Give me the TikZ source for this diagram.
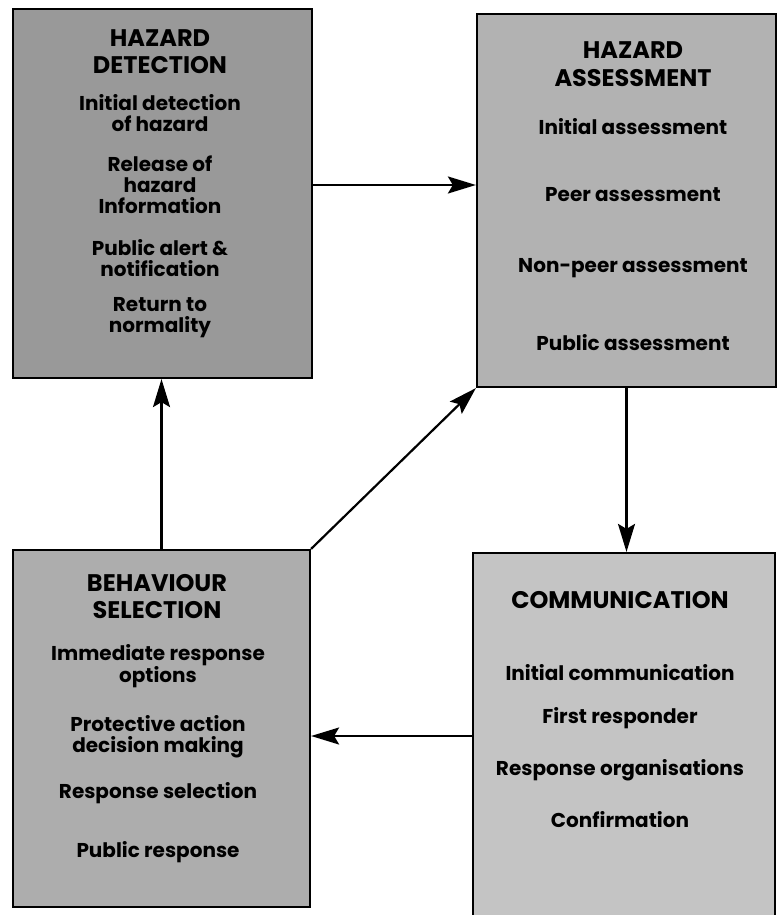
\documentclass[tikz,border=0pt]{standalone}
\usepackage{fontspec}
\setmainfont{Poppins}
\usetikzlibrary{arrows.meta,calc}
\definecolor{hdfill}{gray}{0.60}
\definecolor{hafill}{gray}{0.70}
\definecolor{bsfill}{gray}{0.68}
\definecolor{cmfill}{gray}{0.77}
\tikzset{
  box/.style={draw=black, line width=2.2pt, rectangle, inner sep=0pt},
  ttl/.style={font=\fontsize{24}{26}\selectfont\bfseries, inner sep=0pt, text=black},
  itm/.style={font=\fontsize{20}{21}\selectfont\bfseries, inner sep=0pt, align=center, text=black},
  arr/.style={line width=2.2pt, -{Stealth[length=28pt,width=17pt,inset=5pt]}},
}
\begin{document}
\begin{tikzpicture}[x=1pt,y=-1pt]
\useasboundingbox (0,0) rectangle (779,915);
\fill[white] (0,0) rectangle (779,915);
% boxes
\node[box, fill=hdfill, minimum width=299pt, minimum height=369pt] (hd) at (162.5,193.5) {};
\node[box, fill=hafill, minimum width=299pt, minimum height=373pt] (ha) at (626.5,200.5) {};
\node[box, fill=bsfill, minimum width=297pt, minimum height=357pt] (bs) at (161.5,728.5) {};
\node[box, fill=cmfill, minimum width=302pt, minimum height=367pt] (cm) at (624,736.5) {};
% hazard detection
\node[ttl] (hdt1) at (160,38) {HAZARD};
\node[ttl] (hdt2) at (160,65) {DETECTION};
\node[itm] (hdi1) at (160,113) {Initial detection\\of hazard};
\node[itm] (hdi2) at (160,185) {Release of\\hazard\\Information};
\node[itm] (hdi3) at (160,258) {Public alert \&\\notification};
\node[itm] (hdi4) at (160,318) {Return to\\normality};
% hazard assessment
\node[ttl] (hat1) at (633,50) {HAZARD};
\node[ttl] (hat2) at (633,78) {ASSESSMENT};
\node[itm] (hai1) at (633,127) {Initial assessment};
\node[itm] (hai2) at (633,195) {Peer assessment};
\node[itm] (hai3) at (633,268) {Non-peer assessment};
\node[itm] (hai4) at (633,343) {Public assessment};
% behaviour selection
\node[ttl] (bst1) at (157,583) {BEHAVIOUR};
\node[ttl] (bst2) at (157,610) {SELECTION};
\node[itm] (bsi1) at (158,666) {Immediate response\\options};
\node[itm] (bsi2) at (158,737) {Protective action\\decision making};
\node[itm] (bsi3) at (158,793) {Response selection};
\node[itm] (bsi4) at (158,852) {Public response};
% communication
\node[ttl] (cmt1) at (620,600) {COMMUNICATION};
\node[itm] (cmi1) at (620,673) {Initial communication};
\node[itm] (cmi2) at (620,718) {First responder};
\node[itm] (cmi3) at (620,770) {Response organisations};
\node[itm] (cmi4) at (620,820) {Confirmation};
% connectors
\coordinate (rowa) at (0,185);
\coordinate (rowb) at (0,736);
\draw[arr] (hd.east |- rowa) -- (ha.west |- rowa);
\draw[arr] (ha.south) -- (ha.south |- cm.north);
\draw[arr] (cm.west |- rowb) -- (bs.east |- rowb);
\draw[arr] (bs.north) -- (bs.north |- hd.south);
\draw[arr] (bs.north east) -- (ha.south west);
\end{tikzpicture}
\end{document}
